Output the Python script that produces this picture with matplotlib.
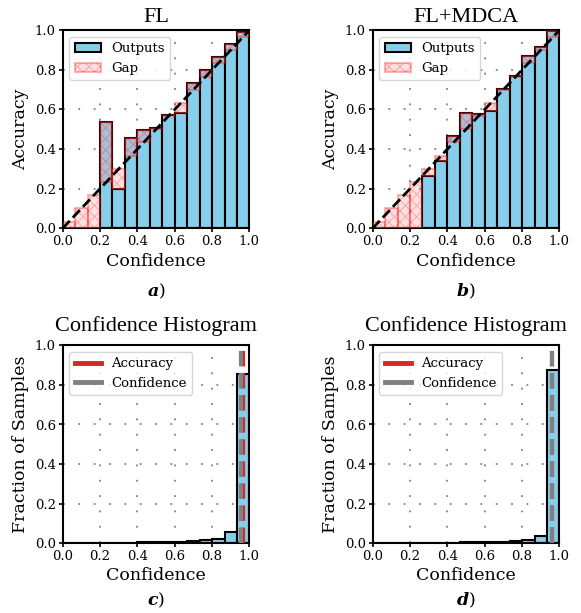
import numpy as np
import matplotlib
matplotlib.use("Agg")
import matplotlib.pyplot as plt
from matplotlib.lines import Line2D

plt.rcParams['font.family'] = ['DejaVu Serif']
plt.rcParams['mathtext.fontset'] = 'dejavuserif'
plt.rcParams['hatch.linewidth'] = 0.6

n_bins = 15
fl_acc = [0, 0, 0, 0.535, 0.200, 0.458, 0.495, 0.506, 0.574, 0.583, 0.733, 0.800, 0.864, 0.933, 0.993]
mdca_acc = [0, 0, 0, 0, 0.264, 0.340, 0.466, 0.582, 0.578, 0.592, 0.705, 0.771, 0.868, 0.915, 0.995]
fl_hist = [0, 0, 0, 0.001, 0.002, 0.004, 0.005, 0.006, 0.007, 0.008, 0.011, 0.016, 0.022, 0.055, 0.857]
mdca_hist = [0, 0, 0, 0.001, 0.002, 0.003, 0.004, 0.005, 0.006, 0.007, 0.009, 0.012, 0.017, 0.037, 0.876]
fl_avg_acc, fl_avg_conf = 0.968, 0.957
mdca_avg_acc, mdca_avg_conf = 0.962, 0.958
titles_top = ["FL", "FL+MDCA"]
panel_labels = ["a", "b", "c", "d"]
ticks = [0.0, 0.2, 0.4, 0.6, 0.8, 1.0]

W, H = 581, 613
fig = plt.figure(figsize=(W / 100, H / 100), dpi=100)

def ax_at(left, top, w=186.7, h=198):
    return fig.add_axes([left / W, 1 - (top + h) / H, w / W, h / H])

width = 1.0 / n_bins
centers = (np.arange(n_bins) + 0.5) * width
BLUE = '#87CEEB'

def style(ax):
    ax.set_xlim(0, 1)
    ax.set_ylim(0, 1)
    ax.set_xticks(ticks)
    ax.set_yticks(ticks)
    ax.tick_params(labelsize=9.5, length=3, width=1.2, pad=2)
    for s in ax.spines.values():
        s.set_linewidth(1.5)
        s.set_color('black')
    ax.set_axisbelow(True)
    ax.grid(True, color='#808080', linestyle=(0, (1, 7.5)), linewidth=1.3)

def reliability(ax, acc, title, label):
    style(ax)
    acc = np.array(acc)
    ax.bar(centers, acc, width=width, edgecolor='black', color=BLUE,
           linewidth=1.5, label='Outputs', zorder=2)
    gaps = centers - acc
    ax.bar(centers, np.abs(gaps), bottom=np.minimum(acc, centers), width=width,
           edgecolor='red', facecolor='#ff9999', alpha=0.3, linewidth=1.5,
           hatch='xxx', label='Gap', zorder=3)
    ax.plot([0, 1], [0, 1], linestyle='--', color='black', linewidth=2, zorder=4)
    ax.legend(loc='upper left', fontsize=9.5, framealpha=0.8, borderpad=0.4,
              handletextpad=0.8)
    ax.set_title(title, fontsize=16, family='Liberation Serif', pad=6)
    ax.set_xlabel('Confidence', fontsize=12.5, labelpad=3.5)
    ax.set_ylabel('Accuracy', fontsize=12.5, labelpad=4)
    ax.text(0.5, -0.32, r'$\mathbfit{' + label + '}$)', transform=ax.transAxes,
            ha='center', va='center', fontsize=12.5)

def histogram(ax, hist, avg_acc, avg_conf, label):
    style(ax)
    ax.bar(centers, hist, width=width, edgecolor='black', color=BLUE,
           linewidth=1.5, zorder=2)
    ax.axvline(avg_acc, linestyle='--', linewidth=3, color='tab:red', zorder=3)
    ax.axvline(avg_conf, linestyle='--', linewidth=3, color='gray', zorder=3)
    handles = [Line2D([], [], color='tab:red', linewidth=3.5),
               Line2D([], [], color='gray', linewidth=3.5)]
    ax.legend(handles, ['Accuracy', 'Confidence'], loc='upper left', fontsize=9.5,
              framealpha=0.8, borderpad=0.4, handletextpad=0.8)
    ax.set_title('Confidence Histogram', fontsize=16, family='Liberation Serif', pad=10.5)
    ax.set_xlabel('Confidence', fontsize=12.5, labelpad=3)
    ax.set_ylabel('Fraction of Samples', fontsize=12.5, labelpad=4)
    ax.text(0.5, -0.29, r'$\mathbfit{' + label + '}$)', transform=ax.transAxes,
            ha='center', va='center', fontsize=12.5)

axa = ax_at(62.7, 30.3)
axb = ax_at(372.7, 30.3)
axc = ax_at(62.7, 345.3)
axd = ax_at(372.7, 345.3)

reliability(axa, fl_acc, titles_top[0], panel_labels[0])
reliability(axb, mdca_acc, titles_top[1], panel_labels[1])
histogram(axc, fl_hist, fl_avg_acc, fl_avg_conf, panel_labels[2])
histogram(axd, mdca_hist, mdca_avg_acc, mdca_avg_conf, panel_labels[3])

fig.savefig('out.png', dpi=100)
